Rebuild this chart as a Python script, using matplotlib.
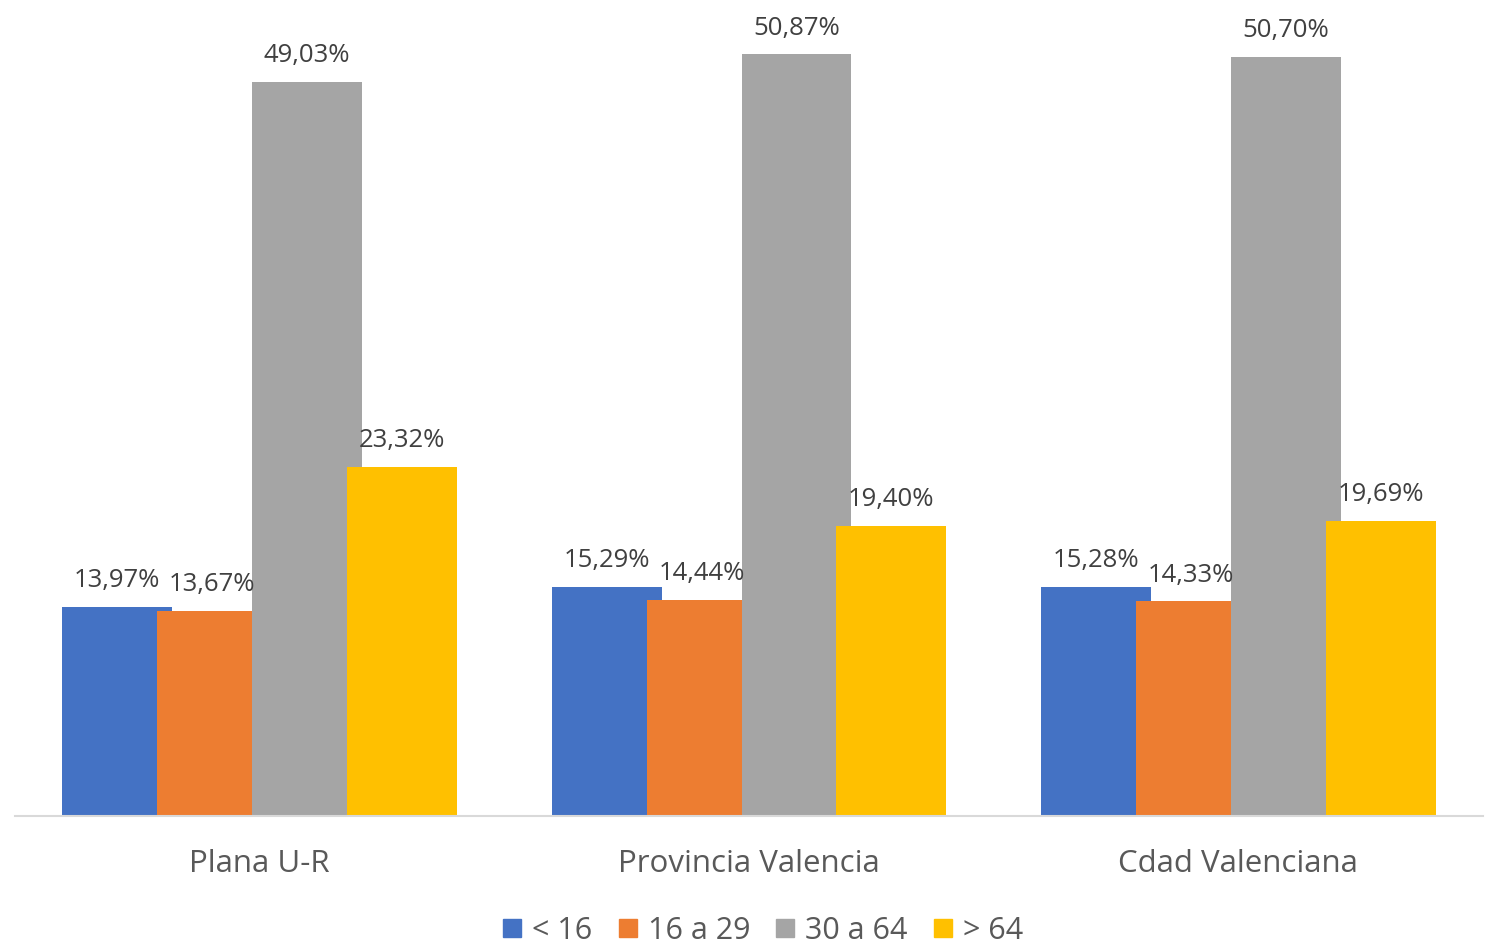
import numpy as np
import matplotlib.pyplot as plt
from matplotlib.lines import Line2D

plt.rcParams['font.family'] = ['Open Sans', 'DejaVu Sans']

# Datos
zonas = ['Plana U-R', 'Provincia Valencia', 'Cdad Valenciana']
grupos = ['< 16', '16 a 29', '30 a 64', '> 64']
menor_16 = [13.97, 15.29, 15.28]
de_16_29 = [13.67, 14.44, 14.33]
de_30_64 = [49.03, 50.87, 50.70]
mayor_64 = [23.32, 19.40, 19.69]
series = [menor_16, de_16_29, de_30_64, mayor_64]
colores = ['#4472C4', '#ED7D31', '#A5A5A5', '#FFC000']

fig = plt.figure(figsize=(14.85, 9.44), dpi=100)
ax = fig.add_axes([15 / 1485, 128 / 944, 1468 / 1485, 796 / 944])

x = np.arange(len(zonas))
ancho = 0.2245
paso = 0.194
offsets = (np.arange(len(series)) - 1.5) * paso

for vals, off, col in zip(series, offsets, colores):
    barras = ax.bar(x + off, vals, width=ancho, color=col, zorder=2)
    for b, v in zip(barras, vals):
        ax.annotate(f'{v:.2f}%'.replace('.', ','),
                    (b.get_x() + b.get_width() / 2, b.get_height()),
                    xytext=(0, 10), textcoords='offset points',
                    ha='center', va='bottom', fontsize=18.5, color='#404040', zorder=5)

ax.set_xlim(-0.5, 2.5)
ax.set_ylim(0, 53.17)
ax.set_yticks([])
ax.set_xticks(x)
ax.set_xticklabels(zonas, fontsize=22.5, color='#595959')
ax.tick_params(axis='x', length=0, pad=24)
for s in ['top', 'right', 'left']:
    ax.spines[s].set_visible(False)
ax.spines['bottom'].set_color('#D9D9D9')
ax.spines['bottom'].set_linewidth(1.5)
ax.spines['bottom'].set_zorder(3)

handles = [Line2D([], [], marker='s', linestyle='none', markersize=13, color=c) for c in colores]
fig.legend(handles, grupos, loc='center', bbox_to_anchor=(763 / 1485, 1 - 931 / 944),
           ncol=4, frameon=False, fontsize=22, labelcolor='#595959',
           handlelength=0.6, handletextpad=0.35, columnspacing=0.85, borderaxespad=0)

plt.savefig('out.png', dpi=100)
